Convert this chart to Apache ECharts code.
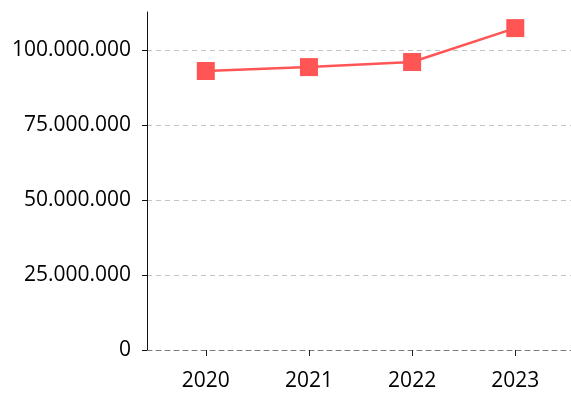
<!DOCTYPE html>
<html>
<head>
<meta charset="utf-8">
<script src="https://cdn.jsdelivr.net/npm/echarts@6/dist/echarts.min.js"></script>
<style>
  html, body { margin: 0; padding: 0; background: #fff; }
  #chart { width: 571px; height: 394px; }
</style>
</head>
<body>
<div id="chart"></div>
<script>
// Yearly totals
const years = [2020, 2021, 2022, 2023];
const totals = [93000000, 94300000, 96000000, 107300000];
const yTicks = [0, 25000000, 50000000, 75000000, 100000000];

const FONT = '"Open Sans", "Noto Sans", sans-serif';
const RED = '#ff5555';

function dotted(v) {
  return String(Math.round(v)).replace(/\B(?=(\d{3})+(?!\d))/g, '.');
}

const chart = echarts.init(document.getElementById('chart'), null, { renderer: 'canvas' });
chart.setOption({
  animation: false,
  backgroundColor: '#ffffff',
  grid: { left: 147, right: 0, top: 12, bottom: 44, containLabel: false },
  xAxis: {
    type: 'value',
    min: 2019.43,
    max: 2023.54,
    axisLine: { show: true, lineStyle: { color: '#7a7a7a', width: 1, type: [5, 4] } },
    axisTick: { show: true, customValues: years, length: 6, lineStyle: { color: '#222', width: 1 } },
    axisLabel: {
      customValues: years,
      formatter: v => String(v),
      fontFamily: FONT, fontSize: 21, color: '#000', margin: 21
    },
    splitLine: { show: false }
  },
  yAxis: {
    type: 'value',
    min: 0,
    max: 112670000,
    interval: 25000000,
    axisLine: { show: true, lineStyle: { color: '#111', width: 1 } },
    axisTick: { show: true, customValues: yTicks, length: 5, lineStyle: { color: '#111', width: 1 } },
    axisLabel: {
      customValues: yTicks,
      formatter: v => dotted(v),
      fontFamily: FONT, fontSize: 21, color: '#000', margin: 16
    },
    splitLine: {
      show: true,
      lineStyle: { color: '#c4c4c4', width: 1, type: [5, 4] }
    }
  },
  series: [{
    type: 'line',
    data: years.map((y, i) => [y, totals[i]]),
    symbol: 'rect',
    symbolSize: 18,
    lineStyle: { color: RED, width: 2.5 },
    itemStyle: { color: RED },
    z: 5
  }]
});
</script>
</body>
</html>
